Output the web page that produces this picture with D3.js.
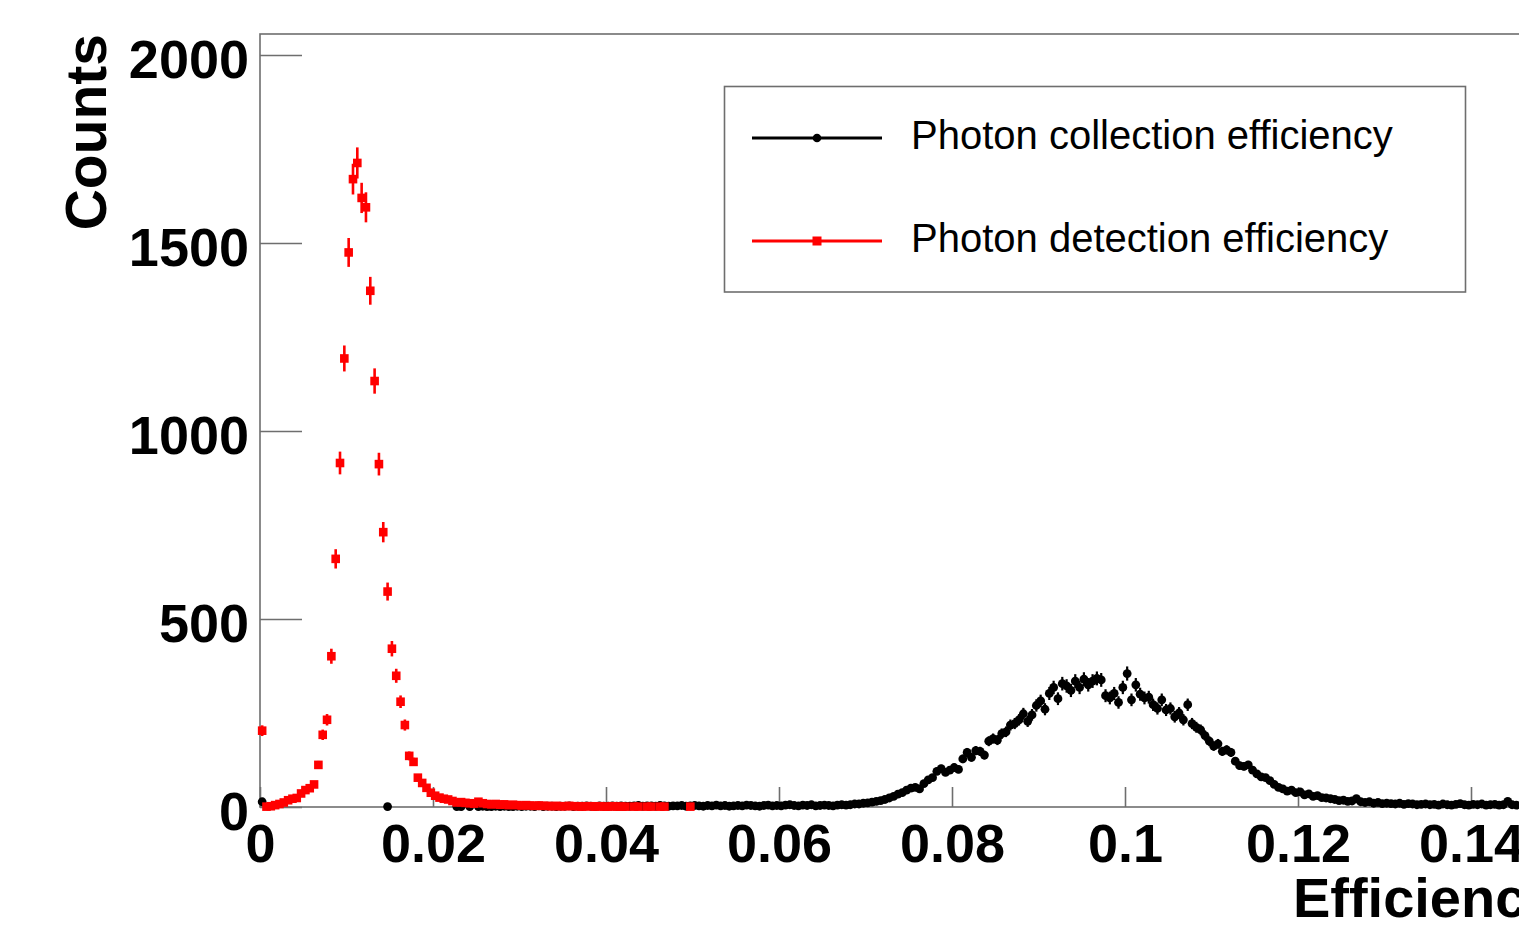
<!DOCTYPE html>
<html>
<head>
<meta charset="utf-8">
<script src="https://cdn.jsdelivr.net/npm/d3@7"></script>
<style>
  body { margin: 0; background: #fff; }
  svg { display: block; font-family: "Liberation Sans", Arial, Helvetica, sans-serif; }
</style>
</head>
<body>
<script>
// histogram bins: 0.0005 wide starting at 0
const binWidth = 0.0005
const xTicks = [0, 0.02, 0.04, 0.06, 0.08, 0.1, 0.12, 0.14]
const xTickLabels = ["0", "0.02", "0.04", "0.06", "0.08", "0.1", "0.12", "0.14"]
const yTicks = [0, 500, 1000, 1500, 2000]
const yTickLabels = ["0", "500", "1000", "1500", "2000"]
const seriesNames = ["Photon collection efficiency", "Photon detection efficiency"]

// photon collection efficiency counts per bin (null = empty bin)
const collection = [
  14, null, null, null, null, null, null, null, null, null,
  null, null, null, null, null, null, null, null, null, null,
  null, null, null, null, null, null, null, null, null, 1,
  null, null, null, null, null, null, null, null, null, null,
  null, null, null, null, null, 1, 1, null, 1, null,
  1, 2, 1, 1, 2, 1, 2, 1, 1, 2,
  1, 2, 2, 1, 3, 1, 2, 2, 1, 2,
  2, 3, 1, 2, 2, 3, 2, 1, 3, 2,
  2, 3, 2, 3, 2, 2, 3, 4, 2, 3,
  3, 2, 4, 3, 2, 3, 3, 4, 2, 3,
  4, 3, 2, 4, 3, 5, 3, 4, 2, 3,
  4, 3, 5, 4, 3, 2, 4, 5, 3, 4,
  3, 5, 6, 4, 3, 5, 4, 6, 3, 4,
  5, 4, 3, 5, 6, 5, 6, 8, 8, 10,
  11, 13, 15, 17, 20, 24, 28, 34, 38, 45,
  50, 52, 48, 62, 72, 78, 95, 102, 92, 98,
  105, 100, 128, 145, 132, 150, 148, 138, 175, 182,
  178, 195, 200, 218, 222, 232, 248, 228, 245, 270,
  282, 260, 302, 318, 288, 328, 322, 310, 335, 318,
  340, 325, 335, 342, 338, 296, 290, 302, 278, 318,
  355, 285, 325, 300, 290, 292, 272, 262, 285, 258,
  262, 240, 250, 232, 272, 222, 212, 205, 190, 175,
  162, 168, 148, 152, 145, 122, 110, 108, 112, 98,
  88, 80, 78, 70, 60, 52, 48, 42, 45, 38,
  40, 32, 35, 28, 30, 25, 24, 22, 20, 17,
  18, 15, 16, 22, 14, 12, 14, 10, 12, 9,
  10, 9, 8, 10, 7, 9, 8, 6, 7, 8,
  6, 7, 5, 8, 6, 5, 7, 9, 6, 5,
  7, 6, 8, 5, 6, 7, 5, 6, 15, 6,
  5
]

// photon detection efficiency counts per bin
const detection = [
  203, 1, 2, 5, 8, 12, 18, 22, 24, 36,
  45, 50, 60, 112, 192, 232, 401, 660, 915, 1193,
  1475, 1670, 1713, 1620, 1595, 1373, 1133, 912, 731, 573,
  421, 349, 280, 218, 136, 120, 78, 64, 51, 38,
  30, 25, 22, 20, 16, 12, 13, 11, 10, 9,
  14, 10, 8, 7, 8, 6, 7, 5, 6, 5,
  4, 5, 4, 3, 4, 3, 3, 2, 3, 2,
  2, 3, 2, 2, 1, 2, 2, 1, 2, 1,
  1, 2, 1, 1, 1, null, 1, 1, null, 1,
  1, null, 1, 1, null, null, null, null, null, 1
]

let w = 1519
let h = 928
let svg = d3.select("body").append("svg")
    .attr("width", w)
    .attr("height", h)

svg.append("rect").attr("width", w).attr("height", h).attr("fill", "#fff")

let xScale = d3.scaleLinear().domain([0, 0.15]).range([260, 1557.5])
let yScale = d3.scaleLinear().domain([0, 2056]).range([807, 34])
let frameColor = "#6e6e6e"

let toPoints = arr => arr.map((v, i) => ({x: binWidth * (i + 0.5), y: v})).filter(d => d.y !== null)

// frame
svg.append("rect")
    .attr("x", xScale(0))
    .attr("y", yScale(2056))
    .attr("width", xScale(0.15) - xScale(0))
    .attr("height", yScale(0) - yScale(2056))
    .attr("fill", "none")
    .attr("stroke", frameColor)
    .attr("stroke-width", 1.6)

let xAxis = d3.axisBottom(xScale)
    .tickValues(xTicks)
    .tickFormat((d, i) => xTickLabels[i])
    .tickSizeInner(-20)
    .tickSizeOuter(0)
    .tickPadding(17)
let yAxis = d3.axisLeft(yScale)
    .tickValues(yTicks)
    .tickFormat((d, i) => yTickLabels[i])
    .tickSizeInner(-42)
    .tickSizeOuter(0)
    .tickPadding(11)

let gx = svg.append("g")
    .attr("transform", "translate(0," + yScale(0) + ")")
    .call(xAxis)
let gy = svg.append("g")
    .attr("transform", "translate(" + xScale(0) + ",0)")
    .call(yAxis)

for (let g of [gx, gy]) {
    g.select(".domain").remove()
    g.selectAll("line").attr("stroke", frameColor).attr("stroke-width", 1.6)
    g.selectAll("text")
        .attr("fill", "#000")
        .style("font-size", "54px")
        .style("font-weight", "bold")
        .style("font-family", "'Liberation Sans', Arial, sans-serif")
}
gy.selectAll("text").attr("dy", "0.41em")

// axis titles
svg.append("text")
    .attr("transform", "translate(106," + yScale(2056) + ") rotate(-90)")
    .attr("text-anchor", "end")
    .style("font-size", "57px")
    .style("font-weight", "bold")
    .text("Counts")
svg.append("text")
    .attr("x", xScale(0.15))
    .attr("y", 917)
    .attr("text-anchor", "end")
    .style("font-size", "56px")
    .style("font-weight", "bold")
    .text("Efficiency")

let plot = svg.append("g")

// collection efficiency: black circles with error bars
let black = toPoints(collection)
plot.append("g").selectAll("line")
    .data(black)
    .enter()
    .append("line")
    .attr("x1", d => xScale(d.x))
    .attr("x2", d => xScale(d.x))
    .attr("y1", d => yScale(d.y + Math.sqrt(d.y)))
    .attr("y2", d => yScale(Math.max(0, d.y - Math.sqrt(d.y))))
    .attr("stroke", "#000")
    .attr("stroke-width", 2.2)
plot.append("g").selectAll("circle")
    .data(black)
    .enter()
    .append("circle")
    .attr("cx", d => xScale(d.x))
    .attr("cy", d => yScale(d.y))
    .attr("r", 4.4)
    .attr("fill", "#000")

// detection efficiency: red squares with error bars
let red = toPoints(detection)
plot.append("g").selectAll("line")
    .data(red)
    .enter()
    .append("line")
    .attr("x1", d => xScale(d.x))
    .attr("x2", d => xScale(d.x))
    .attr("y1", d => yScale(d.y + Math.sqrt(d.y)))
    .attr("y2", d => yScale(Math.max(0, d.y - Math.sqrt(d.y))))
    .attr("stroke", "#ff0000")
    .attr("stroke-width", 2.6)
plot.append("g").selectAll("rect")
    .data(red)
    .enter()
    .append("rect")
    .attr("x", d => xScale(d.x) - 4.3)
    .attr("y", d => yScale(d.y) - 4.3)
    .attr("width", 8.6)
    .attr("height", 8.6)
    .attr("fill", "#ff0000")

// legend
let legend = svg.append("g")
legend.append("rect")
    .attr("x", 724.5)
    .attr("y", 86.5)
    .attr("width", 741)
    .attr("height", 205.5)
    .attr("fill", "#fff")
    .attr("stroke", frameColor)
    .attr("stroke-width", 1.6)

let colors = ["#000", "#ff0000"]
seriesNames.forEach((name, i) => {
    let ly = 138 + i * 103
    legend.append("line")
        .attr("x1", 752).attr("x2", 882)
        .attr("y1", ly).attr("y2", ly)
        .attr("stroke", colors[i])
        .attr("stroke-width", 3)
    if (i === 0) {
        legend.append("circle").attr("cx", 817).attr("cy", ly).attr("r", 4.3).attr("fill", colors[i])
    } else {
        legend.append("rect").attr("x", 812.5).attr("y", ly - 4.5).attr("width", 9).attr("height", 9).attr("fill", colors[i])
    }
    legend.append("text")
        .attr("x", 911)
        .attr("y", ly + 11)
        .style("font-size", "40px")
        .text(name)
})
</script>
</body>
</html>
